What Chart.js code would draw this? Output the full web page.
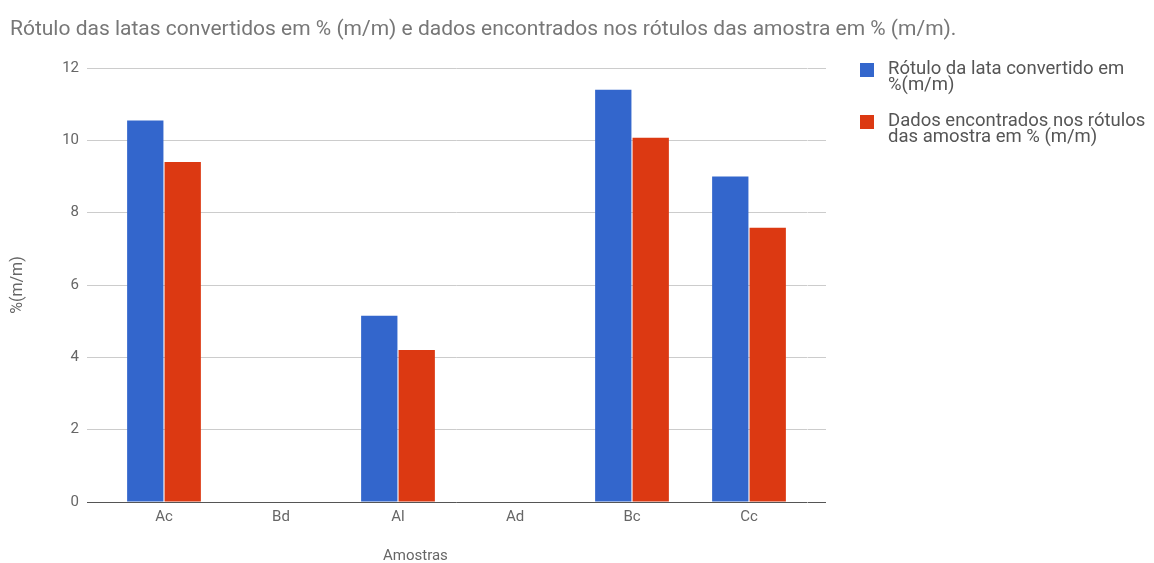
<!DOCTYPE html>
<html lang="pt">
<head>
  <meta charset="UTF-8" />
  <title>Rótulo das latas</title>
  <script src="https://cdn.jsdelivr.net/npm/chart.js"></script>
  <style>
    html, body { margin: 0; padding: 0; background: #fff; }
    body { font-family: Roboto, "Noto Sans", sans-serif; }
    #wrap { position: relative; width: 1154px; height: 563px; overflow: hidden; }
    #chart { position: absolute; left: 0; top: 0; }
    #title { position: absolute; left: 10px; top: 16px; font-size: 21px; line-height: 25px; color: #777; white-space: nowrap; }
    #xtitle { position: absolute; left: 383px; top: 547px; font-size: 15px; line-height: 17px; color: #666; }
    #legend { position: absolute; left: 860px; top: 60px; width: 294px; }
    .item { position: relative; padding-left: 28px; font-size: 18.5px; line-height: 16px; color: #555; margin-bottom: 20px; }
    .box { position: absolute; left: 0; top: 3px; width: 14px; height: 14px; }
  </style>
</head>
<body>
  <div id="wrap">
    <canvas id="chart" width="1154" height="563"></canvas>
    <div id="title">Rótulo das latas convertidos em % (m/m) e dados encontrados nos rótulos das amostra em % (m/m).</div>
    <div id="xtitle">Amostras</div>
    <div id="legend"></div>
  </div>

  <script>
    // categories and values
    const amostras = ['Ac', 'Bd', 'Al', 'Ad', 'Bc', 'Cc'];
    const rotuloLata = [10.55, null, 5.15, null, 11.4, 9.0];
    const dadosAmostra = [9.4, null, 4.2, null, 10.07, 7.58];
    const seriesNames = ['Rótulo da lata convertido em %(m/m)', 'Dados encontrados nos rótulos das amostra em % (m/m)'];
    const seriesColors = ['#3366cc', '#dc3912'];

    const gridColor = ctx => (ctx.tick && ctx.tick.value === 0) ? '#555' : '#ccc';
    const tickFont = { family: 'Roboto', size: 15 };

    new Chart(document.getElementById('chart'), {
      type: 'bar',
      data: {
        labels: amostras,
        datasets: [
          { label: seriesNames[0], data: rotuloLata, backgroundColor: seriesColors[0] },
          { label: seriesNames[1], data: dadosAmostra, backgroundColor: seriesColors[1] }
        ]
      },
      options: {
        responsive: false,
        animation: false,
        layout: { padding: { top: 68, right: 328, bottom: 0, left: 0 } },
        datasets: { bar: { categoryPercentage: 0.64, barPercentage: 0.97 } },
        plugins: { legend: { display: false }, tooltip: { enabled: false } },
        scales: {
          x: {
            grid: { display: false, drawTicks: false },
            border: { display: false },
            ticks: { color: '#666', font: tickFont, padding: 6 },
            afterFit: s => { s.height = 61; }
          },
          y: {
            min: 0, max: 12,
            ticks: { stepSize: 2, color: '#666', font: tickFont, padding: 8 },
            grid: { color: gridColor, tickLength: 18.5, tickColor: gridColor },
            border: { display: false },
            title: { display: true, text: '%(m/m)', color: '#666', font: { family: 'Roboto', size: 16 }, padding: { top: 8, bottom: 4 } },
            afterFit: s => { s.width = 105.5; }
          },
          y2: {
            position: 'right',
            min: 0, max: 12,
            ticks: { display: false, stepSize: 2 },
            grid: { drawOnChartArea: false, color: gridColor, tickLength: 18.5, tickColor: gridColor },
            border: { display: false },
            afterFit: s => { s.width = 18.5; }
          }
        }
      }
    });

    // legend built from the series names (keep "%(" together when wrapping)
    const legend = document.getElementById('legend');
    seriesNames.forEach((name, i) => {
      const item = document.createElement('div');
      item.className = 'item';
      const box = document.createElement('span');
      box.className = 'box';
      box.style.background = seriesColors[i];
      item.appendChild(box);
      item.appendChild(document.createTextNode(name.replace('%(', '%\u2060(')));
      legend.appendChild(item);
    });
  </script>
</body>
</html>
